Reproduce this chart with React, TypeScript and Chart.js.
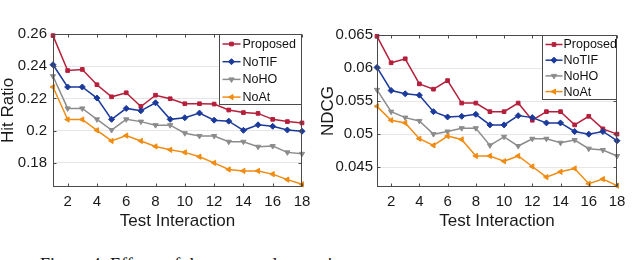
import React, { useEffect, useRef } from "react";
import { Chart, registerables } from "chart.js";
import { drawPoint } from "chart.js/helpers";

Chart.register(...registerables);

const xValues = [1, 2, 3, 4, 5, 6, 7, 8, 9, 10, 11, 12, 13, 14, 15, 16, 17, 18];
const xTicks = [2, 4, 6, 8, 10, 12, 14, 16, 18];
const seriesNames = ["Proposed", "NoTIF", "NoHO", "NoAt"];

const hitProposed = [0.259, 0.2373, 0.238, 0.2285, 0.221, 0.2235, 0.215, 0.222, 0.2198, 0.2167, 0.2167, 0.2165, 0.2128, 0.2112, 0.2107, 0.207, 0.2056, 0.2048];
const hitNoTIF = [0.2409, 0.2271, 0.2271, 0.2202, 0.207, 0.2138, 0.2123, 0.2173, 0.207, 0.208, 0.2109, 0.2065, 0.2059, 0.2002, 0.2036, 0.2027, 0.2004, 0.1996];
const hitNoHO = [0.2338, 0.2138, 0.2138, 0.207, 0.2004, 0.207, 0.2056, 0.2034, 0.2034, 0.1984, 0.1967, 0.1967, 0.1931, 0.1931, 0.19, 0.1904, 0.1865, 0.1856];
const hitNoAt = [0.2271, 0.2069, 0.2069, 0.2002, 0.1936, 0.1969, 0.1936, 0.1902, 0.1881, 0.1865, 0.1838, 0.18, 0.1759, 0.175, 0.175, 0.173, 0.1696, 0.1667];
const hitTicks = [0.18, 0.2, 0.22, 0.24, 0.26];

const ndcgProposed = [0.0648, 0.0608, 0.0614, 0.0576, 0.0568, 0.0581, 0.0547, 0.0547, 0.0534, 0.0534, 0.0547, 0.0521, 0.0534, 0.0534, 0.0514, 0.0527, 0.0508, 0.05];
const ndcgNoTIF = [0.0601, 0.0566, 0.0561, 0.0559, 0.0534, 0.0526, 0.0527, 0.053, 0.0514, 0.0514, 0.0528, 0.0525, 0.0517, 0.0517, 0.0504, 0.05, 0.0504, 0.049];
const ndcgNoHO = [0.0567, 0.0534, 0.0525, 0.052, 0.05, 0.0504, 0.0509, 0.0509, 0.0483, 0.0496, 0.0482, 0.0493, 0.0493, 0.0487, 0.0491, 0.0478, 0.0476, 0.0467];
const ndcgNoAt = [0.0542, 0.0521, 0.0517, 0.0493, 0.0483, 0.0497, 0.0492, 0.0467, 0.0467, 0.0459, 0.0467, 0.0451, 0.0435, 0.0443, 0.0448, 0.0425, 0.0432, 0.0422];
const ndcgTicks = [0.045, 0.05, 0.055, 0.06, 0.065];

const FONT = "'Liberation Sans', Arial, Helvetica, sans-serif";
const seriesStyles = [
  { color: "#b51f3b", pointStyle: "rect", rotation: 0, radius: 2.6 },
  { color: "#1b3a9b", pointStyle: "rectRot", rotation: 0, radius: 3 },
  { color: "#8c8c8c", pointStyle: "triangle", rotation: 180, radius: 3 },
  { color: "#f08c12", pointStyle: "triangle", rotation: -90, radius: 3 },
];

type PanelProps = {
  left: number;
  yTitle: string;
  yTitlePad: number;
  yMin: number;
  yMax: number;
  yTicks: number[];
  series: number[][];
  padTop: number;
  padRight: number;
  yWidth: number;
  yTickPad: number;
  legendW: number;
  legendH: number;
  legendFirst: number;
  legendStep: number;
  legendLine: [number, number];
  legendText: number;
};

function Panel(p: PanelProps) {
  const ref = useRef<HTMLCanvasElement>(null);
  useEffect(() => {
    const boxPlugin = {
      id: "boxPlugin",
      afterDatasetsDraw(chart: any) {
        const { ctx, chartArea } = chart;
        const { left, right, top, bottom } = chartArea;
        const xs = chart.scales.x;
        const ys = chart.scales.y;
        ctx.save();
        ctx.strokeStyle = "#4a4a4a";
        ctx.lineWidth = 1;
        const l = Math.round(left) + 0.5;
        const r = Math.round(right) - 0.5;
        const t = Math.round(top) + 0.5;
        const b = Math.round(bottom) - 0.5;
        ctx.strokeRect(l, t, r - l, b - t);
        ctx.beginPath();
        for (const v of xTicks) {
          const px = Math.round(xs.getPixelForValue(v)) + 0.5;
          ctx.moveTo(px, b);
          ctx.lineTo(px, b - 3);
          ctx.moveTo(px, t);
          ctx.lineTo(px, t + 3);
        }
        for (const v of p.yTicks) {
          const py = Math.round(ys.getPixelForValue(v)) + 0.5;
          ctx.moveTo(l, py);
          ctx.lineTo(l + 3, py);
          ctx.moveTo(r, py);
          ctx.lineTo(r - 3, py);
        }
        ctx.stroke();
        // legend
        const lx = Math.round(right - p.legendW) + 0.5;
        const ly = t;
        ctx.fillStyle = "#ffffff";
        ctx.fillRect(lx, ly, r - lx, p.legendH);
        ctx.strokeStyle = "#4a4a4a";
        ctx.strokeRect(lx, ly, r - lx, p.legendH);
        ctx.font = `12.5px ${FONT}`;
        ctx.textBaseline = "middle";
        ctx.textAlign = "left";
        seriesNames.forEach((name, i) => {
          const st = seriesStyles[i];
          const cy = ly + p.legendFirst + i * p.legendStep;
          ctx.strokeStyle = st.color;
          ctx.fillStyle = st.color;
          ctx.lineWidth = 1.5;
          ctx.beginPath();
          ctx.moveTo(lx + p.legendLine[0], cy);
          ctx.lineTo(lx + p.legendLine[1], cy);
          ctx.stroke();
          ctx.lineWidth = 1;
          drawPoint(ctx, { pointStyle: st.pointStyle as any, rotation: st.rotation, radius: st.radius, borderWidth: 1 }, lx + (p.legendLine[0] + p.legendLine[1]) / 2, cy);
          ctx.fillStyle = "#111111";
          ctx.fillText(name, lx + p.legendText, cy + 0.5);
        });
        ctx.restore();
      },
    };

    const chart = new Chart(ref.current as HTMLCanvasElement, {
      type: "line",
      data: {
        datasets: seriesNames.map((name, i) => ({
          label: name,
          data: xValues.map((x, j) => ({ x, y: p.series[i][j] })),
          borderColor: seriesStyles[i].color,
          backgroundColor: seriesStyles[i].color,
          borderWidth: 1.5,
          pointStyle: seriesStyles[i].pointStyle as any,
          pointRotation: seriesStyles[i].rotation,
          pointRadius: seriesStyles[i].radius,
          pointBorderWidth: 1,
          pointBackgroundColor: seriesStyles[i].color,
          pointBorderColor: seriesStyles[i].color,
          tension: 0,
          clip: 6,
          order: 4 - i,
        })),
      },
      options: {
        animation: false,
        responsive: false,
        devicePixelRatio: 1,
        layout: { padding: { top: p.padTop, right: p.padRight, left: 0, bottom: 0 } },
        plugins: { legend: { display: false }, tooltip: { enabled: false } },
        scales: {
          x: {
            type: "linear",
            min: 1,
            max: 18,
            afterBuildTicks: (s: any) => {
              s.ticks = xTicks.map((v) => ({ value: v }));
            },
            afterFit: (s: any) => {
              s.height = 53;
            },
            grid: { display: false, drawTicks: false },
            border: { display: false },
            ticks: {
              padding: 6,
              color: "#1a1a1a",
              font: { family: FONT, size: 15 },
              maxRotation: 0,
              autoSkip: false,
            },
            title: {
              display: true,
              text: "Test Interaction",
              color: "#1a1a1a",
              font: { family: FONT, size: 17 },
              padding: { top: 0, bottom: 8 },
            },
          },
          y: {
            type: "linear",
            min: p.yMin,
            max: p.yMax,
            afterBuildTicks: (s: any) => {
              s.ticks = p.yTicks.map((v) => ({ value: v }));
            },
            afterFit: (s: any) => {
              s.width = p.yWidth;
            },
            grid: { color: "#e6e6e6", drawTicks: false, lineWidth: 1 },
            border: { display: false },
            ticks: {
              padding: p.yTickPad,
              color: "#1a1a1a",
              font: { family: FONT, size: 15 },
              callback: (v: any) => String(Number(Number(v).toFixed(4))),
            },
            title: {
              display: true,
              text: p.yTitle,
              color: "#1a1a1a",
              font: { family: FONT, size: 17, lineHeight: 1 },
              padding: { top: p.yTitlePad, bottom: 0 },
            },
          },
        },
      },
      plugins: [boxPlugin],
    });
    return () => chart.destroy();
  }, []);
  return (
    <div style={{ position: "absolute", left: p.left, top: 0, width: 320, height: 240 }}>
      <canvas ref={ref} width={320} height={240} style={{ display: "block" }} />
    </div>
  );
}

export default function App() {
  return (
    <div style={{ position: "absolute", left: 0, top: 0, width: 640, height: 260, background: "#fff", overflow: "hidden" }}>
      <Panel
        left={0}
        yTitle="Hit Ratio"
        yTitlePad={0}
        yMin={0.165}
        yMax={0.26}
        yTicks={hitTicks}
        series={[hitProposed, hitNoTIF, hitNoHO, hitNoAt]}
        padTop={34}
        padRight={18}
        yWidth={53}
        yTickPad={6}
        legendW={83}
        legendH={70}
        legendFirst={9.5}
        legendStep={17.7}
        legendLine={[3, 21]}
        legendText={23}
      />
      <Panel
        left={320}
        yTitle="NDCG"
        yTitlePad={0}
        yMin={0.042}
        yMax={0.065}
        yTicks={ndcgTicks}
        series={[ndcgProposed, ndcgNoTIF, ndcgNoHO, ndcgNoAt]}
        padTop={35}
        padRight={23}
        yWidth={57}
        yTickPad={4}
        legendW={75}
        legendH={64}
        legendFirst={9}
        legendStep={15.7}
        legendLine={[3, 20]}
        legendText={21}
      />
      <div
        style={{
          position: "absolute",
          left: 40,
          top: 255,
          fontFamily: "'Liberation Serif', 'Times New Roman', serif",
          fontSize: 18,
          whiteSpace: "nowrap",
          color: "#111",
        }}
      >
        Figure 4: Effects of the proposed extensions
      </div>
    </div>
  );
}
